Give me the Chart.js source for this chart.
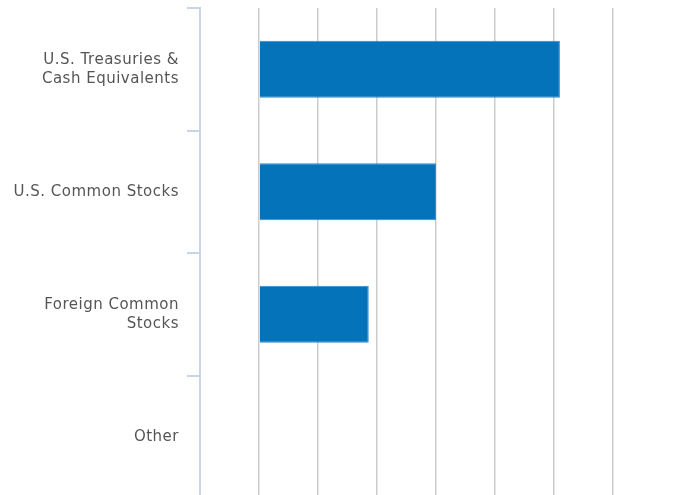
<!doctype html>
<html lang="en">
<head>
    <meta charset="utf-8">
    <title>Asset allocation</title>
    <script src="https://cdn.jsdelivr.net/npm/chart.js@4.4.0/dist/chart.umd.min.js"></script>
    <style>
        html, body { margin: 0; padding: 0; background: #fff; overflow: hidden; }
        #wrap { position: relative; width: 689px; height: 500px; }
    </style>
</head>
<body>
    <div id="wrap">
        <canvas id="myChart"></canvas>
    </div>
<script>
    // categories and values (percent of portfolio)
    const labels = [
        ["U.S. Treasuries &", "Cash Equivalents"],
        "U.S. Common Stocks",
        ["Foreign Common", "Stocks"],
        "Other"
    ];
    const values = [51.0, 30.0, 18.6, 0.1];
    const barFills = ['#0573b9', '#0573b9', '#0573b9', '#ffffff'];
    const barBorders = ['#2a8bd6', '#2a8bd6', '#2a8bd6', '#ffffff'];

    // a bit of tracking on the category labels
    const spacing = {
        id: 'spacing',
        beforeDraw: (chart) => { chart.ctx.letterSpacing = '0.5px'; }
    };

    const chart = new Chart(document.getElementById('myChart'), {
        type: 'bar',
        data: {
            labels: labels,
            datasets: [{
                data: values,
                backgroundColor: barFills,
                borderColor: barBorders,
                borderWidth: 1,
                barPercentage: 0.465,
                categoryPercentage: 1
            }]
        },
        options: {
            indexAxis: 'y',
            responsive: true,
            maintainAspectRatio: false,
            animation: false,
            layout: { padding: { top: 8, right: 76, bottom: 2, left: 0 } },
            plugins: {
                legend: { display: false },
                tooltip: { enabled: false }
            },
            scales: {
                x: {
                    min: -10,
                    max: 60,
                    ticks: { display: false, stepSize: 10 },
                    grid: { color: '#cccccc', lineWidth: 1.5, drawTicks: false },
                    border: { display: false },
                    afterFit: (scale) => { scale.height = 0; }
                },
                y: {
                    grid: {
                        drawOnChartArea: false,
                        drawTicks: true,
                        tickLength: 13,
                        color: '#c8d5e6',
                        lineWidth: 2
                    },
                    border: { color: '#c8d5e6', width: 2 },
                    ticks: {
                        color: '#555555',
                        padding: 8,
                        font: { family: 'DejaVu Sans', size: 15, lineHeight: 1.27 }
                    },
                    afterFit: (scale) => {
                        scale.width = 200;
                        scale.paddingTop = 0;
                        scale.paddingBottom = 0;
                    }
                }
            }
        },
        plugins: [spacing]
    });
</script>
</body>
</html>
